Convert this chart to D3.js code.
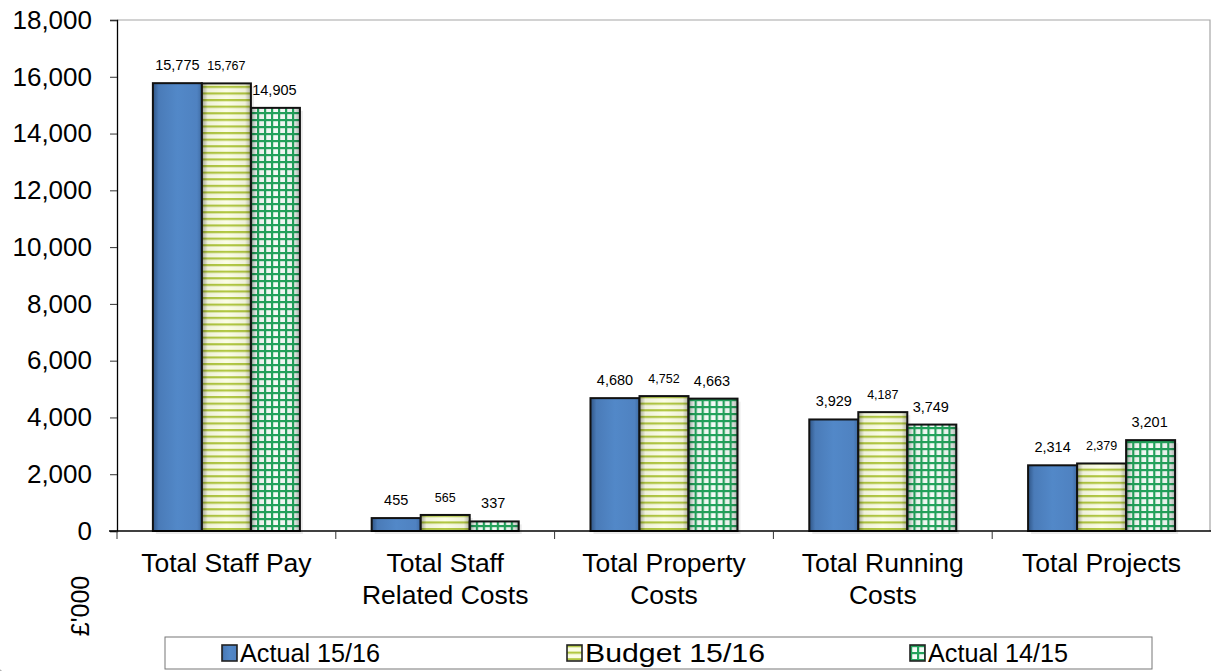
<!DOCTYPE html>
<html>
<head>
<meta charset="utf-8">
<script src="https://cdnjs.cloudflare.com/ajax/libs/d3/7.8.5/d3.min.js"></script>
<style>
  html, body { margin: 0; padding: 0; background: #fff; }
  svg { display: block; font-family: "Liberation Sans", Arial, sans-serif; }
</style>
</head>
<body>
<svg id="chart" width="1211" height="671"></svg>
<script>
// ---- data ----
const categories = [
  ["Total Staff Pay"],
  ["Total Staff", "Related Costs"],
  ["Total Property", "Costs"],
  ["Total Running", "Costs"],
  ["Total Projects"]
];
const seriesNames = ["Actual 15/16", "Budget 15/16", "Actual 14/15"];
const actual1516 = [15775, 455, 4680, 3929, 2314];
const budget1516 = [15767, 565, 4752, 4187, 2379];
const actual1415 = [14905, 337, 4663, 3749, 3201];
const yTicks = [0, 2000, 4000, 6000, 8000, 10000, 12000, 14000, 16000, 18000];
const yTitle = "£'000";

const seriesValues = [actual1516, budget1516, actual1415];
const fills = ["url(#gBlue)", "url(#pStripe)", "url(#pGrid)"];
const labelSizes = [14.5, 12.5, 14.5];

const svg = d3.select("#chart");
const W = 1211, H = 671;
const mLeft = 117, mRight = 1211, mTop = 20, mBottom = 531;

// defs
const defs = svg.append("defs");
const gb = defs.append("linearGradient").attr("id", "gBlue").attr("x1", 0).attr("x2", 1).attr("y1", 0).attr("y2", 0);
[[0, "#2f5586"], [0.12, "#4a7bb8"], [0.5, "#5288c8"], [0.9, "#4f82c1"], [1, "#3f6ba3"]]
  .forEach(([o, c]) => gb.append("stop").attr("offset", o).attr("stop-color", c));

const shade = defs.append("linearGradient").attr("id", "gShade").attr("x1", 0).attr("x2", 1).attr("y1", 0).attr("y2", 0);
[[0, "#000", 0.35], [0.12, "#000", 0.05], [0.5, "#000", 0], [0.88, "#000", 0.05], [1, "#000", 0.3]]
  .forEach(([o, c, a]) => shade.append("stop").attr("offset", o).attr("stop-color", c).attr("stop-opacity", a));

const ps = defs.append("pattern").attr("id", "pStripe").attr("patternUnits", "userSpaceOnUse")
  .attr("width", 8).attr("height", 6.6);
ps.append("rect").attr("width", 8).attr("height", 6.6).attr("fill", "#fbfde6");
ps.append("rect").attr("y", 0).attr("width", 8).attr("height", 2.2).attr("fill", "#b2c843");

const pg = defs.append("pattern").attr("id", "pGrid").attr("patternUnits", "userSpaceOnUse")
  .attr("width", 7).attr("height", 7);
pg.append("rect").attr("width", 7).attr("height", 7).attr("fill", "#f4fbf6");
pg.append("rect").attr("x", 0).attr("width", 2.2).attr("height", 7).attr("fill", "#23a35c");
pg.append("rect").attr("y", 0).attr("width", 7).attr("height", 2.2).attr("fill", "#23a35c");

// outer chart border (rounded)
svg.append("rect").attr("x", -8).attr("y", -20).attr("width", W + 30).attr("height", H + 24)
  .attr("rx", 22).attr("fill", "none").attr("stroke", "#999").attr("stroke-width", 1);

// scales
const x = d3.scaleBand().domain(d3.range(categories.length)).range([mLeft, mRight]).padding(0);
const xs = d3.scaleBand().domain(d3.range(seriesNames.length))
  .range([x.bandwidth() * 0.164, x.bandwidth() * 0.836]).padding(0);
const y = d3.scaleLinear().domain([0, 18000]).range([mBottom, mTop]);

// plot area border (top + right)
svg.append("path").attr("d", `M${mLeft},${mTop}H${mRight - 1}V${mBottom}`)
  .attr("fill", "none").attr("stroke", "#a6a6a6").attr("stroke-width", 1.2);

// y axis
const yAxis = svg.append("g").attr("transform", `translate(${mLeft},0)`)
  .call(d3.axisLeft(y).tickValues(yTicks).tickSize(7).tickPadding(18).tickFormat(d3.format(",")));
yAxis.select(".domain").attr("stroke", "#000").attr("stroke-width", 1.3);
yAxis.selectAll(".tick line").attr("stroke", "#333");
yAxis.selectAll(".tick text").attr("font-size", 26).attr("fill", "#000")
  .attr("font-family", "'Liberation Sans', Arial, sans-serif");

// bars
const groups = svg.append("g").selectAll("g").data(categories).join("g")
  .attr("transform", (d, i) => `translate(${x(i)},0)`);

seriesValues.forEach((vals, s) => {
  groups.append("rect")
    .attr("x", (d, i) => xs(s) + 3).attr("y", (d, i) => y(vals[i]) + 3)
    .attr("width", xs.bandwidth()).attr("height", (d, i) => mBottom - y(vals[i]))
    .attr("fill", "#000").attr("opacity", 0.08);
});
seriesValues.forEach((vals, s) => {
  groups.append("rect")
    .attr("x", (d, i) => xs(s)).attr("y", (d, i) => y(vals[i]))
    .attr("width", xs.bandwidth()).attr("height", (d, i) => mBottom - y(vals[i]))
    .attr("fill", fills[s]);
  if (s > 0) {
    groups.append("rect")
      .attr("x", (d, i) => xs(s)).attr("y", (d, i) => y(vals[i]))
      .attr("width", xs.bandwidth()).attr("height", (d, i) => mBottom - y(vals[i]))
      .attr("fill", "url(#gShade)");
  }
  groups.append("rect")
    .attr("x", (d, i) => xs(s)).attr("y", (d, i) => y(vals[i]))
    .attr("width", xs.bandwidth()).attr("height", (d, i) => mBottom - y(vals[i]))
    .attr("fill", "none").attr("stroke", "#111").attr("stroke-width", 2);
  groups.append("text")
    .attr("x", (d, i) => xs(s) + xs.bandwidth() / 2 + (s === 2 ? -1 : 0))
    .attr("y", (d, i) => y(vals[i]) - 13)
    .attr("text-anchor", "middle").attr("font-size", labelSizes[s]).attr("fill", "#000")
    .text((d, i) => d3.format(",")(vals[i]));
});

// x axis
const xAxis = svg.append("g").attr("transform", `translate(0,${mBottom})`);
xAxis.append("line").attr("x1", mLeft - 8).attr("x2", mRight).attr("stroke", "#000").attr("stroke-width", 1.3);
xAxis.selectAll("line.ct").data(d3.range(categories.length)).join("line").attr("class", "ct")
  .attr("x1", d => x(d)).attr("x2", d => x(d)).attr("y1", 0).attr("y2", 8)
  .attr("stroke", "#333");
const cl = xAxis.selectAll("text.cl").data(categories).join("text").attr("class", "cl")
  .attr("x", (d, i) => x(i) + x.bandwidth() / 2)
  .attr("text-anchor", "middle").attr("font-size", 26.5).attr("fill", "#000");
cl.selectAll("tspan").data(d => d).join("tspan")
  .attr("x", function () { return this.parentNode.getAttribute("x"); })
  .attr("y", (d, j) => 41 + j * 32)
  .text(d => d);

// y title
svg.append("text").attr("transform", "translate(89,606) rotate(-90)")
  .attr("text-anchor", "middle").attr("font-size", 25).attr("fill", "#000").text(yTitle);

// legend
const lg = svg.append("g");
lg.append("rect").attr("x", 165).attr("y", 637).attr("width", 987).attr("height", 32)
  .attr("fill", "#fff").attr("stroke", "#777").attr("stroke-width", 1);
const legendX = [222, 567, 910];
const legendLen = [140, 180, 140];
const li = lg.selectAll("g.li").data(seriesNames).join("g").attr("class", "li")
  .attr("transform", (d, i) => `translate(${legendX[i]},645)`);
li.append("rect").attr("width", 15).attr("height", 16).attr("fill", (d, i) => fills[i])
  .attr("stroke", "#222").attr("stroke-width", 1.6);
li.append("text").attr("x", 18).attr("y", 17).attr("font-size", 26).attr("fill", "#000")
  .attr("textLength", (d, i) => legendLen[i]).attr("lengthAdjust", "spacingAndGlyphs")
  .text(d => d);
</script>
</body>
</html>
